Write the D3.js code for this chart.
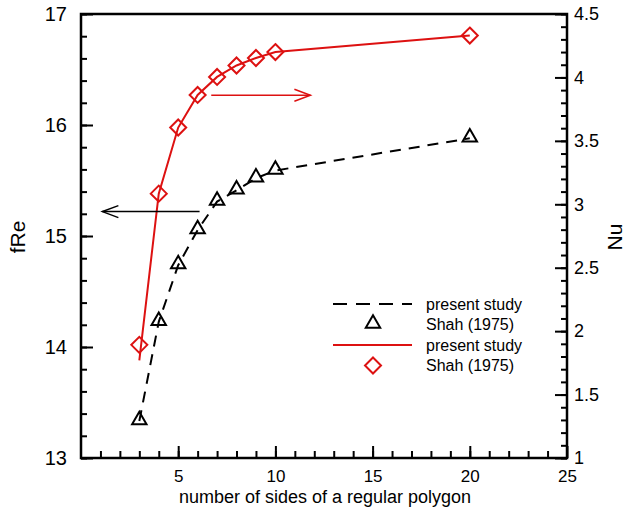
<!DOCTYPE html>
<html>
<head>
<meta charset="utf-8">
<script src="https://cdn.jsdelivr.net/npm/d3@7"></script>
<style>
  body { margin: 0; background: #fff; }
  text { font-family: "Liberation Sans", Arial, sans-serif; fill: #000; }
</style>
</head>
<body>
<div id="chart"></div>
<script>
// data
const sides = [3, 4, 5, 6, 7, 8, 9, 10, 20];
const fReStudy = [13.333, 14.227, 14.737, 15.054, 15.31, 15.412, 15.52, 15.59, 15.88];
const fReShah = [13.333, 14.227, 14.737, 15.054, 15.31, 15.412, 15.52, 15.59, 15.88];
const nuStudy = [1.77, 3.084, 3.605, 3.862, 4.004, 4.094, 4.153, 4.20, 4.33];
const nuShah = [1.892, 3.084, 3.605, 3.862, 4.004, 4.094, 4.153, 4.20, 4.33];
const legendLabels = ["present study", "Shah (1975)", "present study", "Shah (1975)"];

const WIDTH = 626, HEIGHT = 515;
const PLOT = { LEFT: 81, RIGHT: 567, TOP: 14, BOTTOM: 458 };
const RED = "#dd1111";

const svg = d3.select("#chart").append("svg")
    .attr("width", WIDTH)
    .attr("height", HEIGHT);

const xScale = d3.scaleLinear().domain([0, 25]).range([PLOT.LEFT, PLOT.RIGHT]);
const yLeft = d3.scaleLinear().domain([13, 17]).range([PLOT.BOTTOM, PLOT.TOP]);
const yRight = d3.scaleLinear().domain([1, 4.5]).range([PLOT.BOTTOM, PLOT.TOP]);

// Axes (ticks point inward)
function styleAxis(g) {
    g.select(".domain").remove();
    g.selectAll("line").attr("stroke", "#000").attr("stroke-width", 2);
}

// minor ticks first
svg.append("g")
    .attr("transform", `translate(${PLOT.LEFT},0)`)
    .call(d3.axisLeft(yLeft).tickValues(d3.range(13, 17.01, 0.2)).tickSize(-6).tickFormat(""))
    .call(styleAxis);
svg.append("g")
    .attr("transform", `translate(0,${PLOT.BOTTOM})`)
    .call(d3.axisBottom(xScale).tickValues(d3.range(1, 25, 1)).tickSize(-7).tickFormat(""))
    .call(styleAxis);
svg.append("g")
    .attr("transform", `translate(${PLOT.RIGHT},0)`)
    .call(d3.axisRight(yRight).tickValues(d3.range(1, 4.51, 0.1)).tickSize(-6).tickFormat(""))
    .call(styleAxis);

// major ticks with labels
svg.append("g")
    .attr("transform", `translate(${PLOT.LEFT},0)`)
    .call(d3.axisLeft(yLeft).tickValues([13, 14, 15, 16, 17]).tickSize(-12).tickPadding(14).tickFormat(d3.format("d")))
    .call(styleAxis)
    .selectAll("text").style("font-size", "20px");

svg.append("g")
    .attr("transform", `translate(0,${PLOT.BOTTOM})`)
    .call(d3.axisBottom(xScale).tickValues([5, 10, 15, 20, 25]).tickSize(-12).tickPadding(12))
    .call(styleAxis)
    .selectAll("text").style("font-size", "17px");

svg.append("g")
    .attr("transform", `translate(${PLOT.RIGHT},0)`)
    .call(d3.axisRight(yRight).tickValues([1, 1.5, 2, 2.5, 3, 3.5, 4, 4.5]).tickSize(-12).tickPadding(7).tickFormat(d => d))
    .call(styleAxis)
    .selectAll("text").style("font-size", "18px");

// frame
svg.append("rect")
    .attr("x", PLOT.LEFT)
    .attr("y", PLOT.TOP)
    .attr("width", PLOT.RIGHT - PLOT.LEFT)
    .attr("height", PLOT.BOTTOM - PLOT.TOP)
    .attr("fill", "none")
    .attr("stroke", "#000")
    .attr("stroke-width", 2.5);

// Lines
const fReLine = d3.line()
    .x((d, i) => xScale(sides[i]))
    .y(d => yLeft(d));
const nuLine = d3.line()
    .x((d, i) => xScale(sides[i]))
    .y(d => yRight(d));

svg.append("path")
    .datum(fReStudy)
    .attr("fill", "none")
    .attr("stroke", "#000")
    .attr("stroke-width", 2)
    .attr("stroke-dasharray", "11,8")
    .attr("d", fReLine);

svg.append("path")
    .datum(nuStudy)
    .attr("fill", "none")
    .attr("stroke", RED)
    .attr("stroke-width", 2)
    .attr("d", nuLine);

// Markers
const triangle = d3.symbol().type(d3.symbolTriangle).size(90);
const diamond = "M0,-8L8,0L0,8L-8,0Z";

svg.selectAll(".tri")
    .data(fReShah)
    .join("path")
    .attr("class", "tri")
    .attr("d", triangle)
    .attr("transform", (d, i) => `translate(${xScale(sides[i])},${yLeft(d) - 1})`)
    .attr("fill", "none")
    .attr("stroke", "#000")
    .attr("stroke-width", 2);

svg.selectAll(".dia")
    .data(nuShah)
    .join("path")
    .attr("class", "dia")
    .attr("d", diamond)
    .attr("transform", (d, i) => `translate(${xScale(sides[i])},${yRight(d)})`)
    .attr("fill", "none")
    .attr("stroke", RED)
    .attr("stroke-width", 2);

// Arrows indicating which axis
function arrow(x1, x2, y, color) {
    const dir = Math.sign(x2 - x1);
    svg.append("line")
        .attr("x1", x1).attr("y1", y).attr("x2", x2).attr("y2", y)
        .attr("stroke", color).attr("stroke-width", 1.5);
    svg.append("path")
        .attr("d", `M${x2 - dir * 16},${y - 6}L${x2},${y}L${x2 - dir * 16},${y + 6}`)
        .attr("fill", "none")
        .attr("stroke", color).attr("stroke-width", 1.5);
}
arrow(xScale(6.1), xScale(1.1), yLeft(15.22), "#000");
arrow(xScale(6.7), xScale(11.8), yRight(3.86), RED);

// Legend
const legend = svg.append("g").attr("transform", "translate(333,304)");
const rowH = 20.5;
legend.append("line")
    .attr("x1", 0).attr("x2", 79).attr("y1", 0).attr("y2", 0)
    .attr("stroke", "#000").attr("stroke-width", 2).attr("stroke-dasharray", "14,9");
legend.append("path")
    .attr("d", triangle)
    .attr("transform", `translate(40,${rowH - 1})`)
    .attr("fill", "none").attr("stroke", "#000").attr("stroke-width", 2);
legend.append("line")
    .attr("x1", 0).attr("x2", 79).attr("y1", rowH * 2).attr("y2", rowH * 2)
    .attr("stroke", RED).attr("stroke-width", 2);
legend.append("path")
    .attr("d", diamond)
    .attr("transform", `translate(40,${rowH * 3})`)
    .attr("fill", "none").attr("stroke", RED).attr("stroke-width", 2);
legend.selectAll(".lab")
    .data(legendLabels)
    .join("text")
    .attr("class", "lab")
    .attr("x", 93)
    .attr("y", (d, i) => i * rowH)
    .attr("dy", "0.35em")
    .style("font-size", "16px")
    .text(d => d);

// Axis titles
svg.append("text")
    .attr("transform", "translate(25,237) rotate(-90)")
    .attr("text-anchor", "middle")
    .style("font-size", "21px")
    .text("fRe");

svg.append("text")
    .attr("transform", "translate(622,237) rotate(-90)")
    .attr("text-anchor", "middle")
    .style("font-size", "21px")
    .text("Nu");

svg.append("text")
    .attr("x", 325)
    .attr("y", 503)
    .attr("text-anchor", "middle")
    .style("font-size", "18px")
    .text("number of sides of a regular polygon");
</script>
</body>
</html>
